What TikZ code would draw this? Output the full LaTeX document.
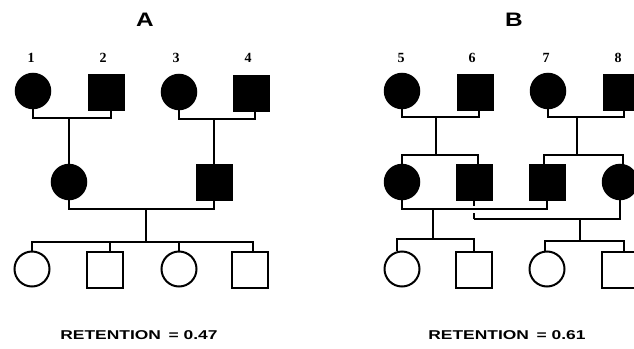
\documentclass[tikz,border=0pt]{standalone}
\usepackage{graphicx}
\usepackage{fontspec}
\newfontfamily\headfont{Liberation Sans}
\newfontfamily\numfont{Liberation Serif}
\begin{document}
\begin{tikzpicture}[x=1pt,y=-1pt,line width=2.4pt,line join=miter,
  aff/.style={draw,fill=black,inner sep=0pt,line width=1.5pt},
  unaff/.style={draw,fill=white,inner sep=0pt,line width=2pt},
  fem/.style={circle,minimum size=35pt},
  mal/.style={rectangle,minimum size=35.5pt},
  idlabel/.style={font=\numfont\bfseries\fontsize{14}{16}\selectfont},
  panel/.style={font=\headfont\bfseries\fontsize{19.5}{22}\selectfont},
  score/.style={font=\headfont\bfseries\fontsize{12.8}{15}\selectfont}]
\path[use as bounding box] (0,0) rectangle (634,348);
\fill[white] (0,0) rectangle (634,348);
\clip (0,0) rectangle (634,348);

% ---------------- pedigree A ----------------
\node[panel] (tA) at (145,20) {\scalebox{1.25}[1]{A}};
\node[idlabel] (l1) at (31,58) {1};
\node[idlabel] (l2) at (103,58) {2};
\node[idlabel] (l3) at (176,58) {3};
\node[idlabel] (l4) at (248,58) {4};

\node[aff,fem] (a1) at (33,91) {};
\node[aff,mal] (a2) at (106,92) {};
\node[aff,fem] (a3) at (179,92) {};
\node[aff,mal] (a4) at (251,93) {};

\node[aff,fem] (a5) at (69,182) {};
\node[aff,mal] (a6) at (214,182) {};

\node[unaff,fem] (a7) at (32,269) {};
\node[unaff,mal] (a8) at (105,270) {};
\node[unaff,fem] (a9) at (179,269) {};
\node[unaff,mal] (a10) at (250,270) {};

% matings and descent lines
\coordinate (mA1) at (69,118);
\draw (a1.south) -- (a1.south |- mA1) -- ([xshift=5pt]a2.south |- mA1) -- ([xshift=5pt]a2.south);
\draw (mA1) -- (a5.north);
\coordinate (mA2) at (214,119);
\draw (a3.south) -- (a3.south |- mA2) -- ([xshift=4pt]a4.south |- mA2) -- ([xshift=4pt]a4.south);
\draw (mA2) -- (a6.north);
\coordinate (mA3) at (146,209);
\draw (a5.south) -- (a5.south |- mA3) -- (a6.south |- mA3) -- (a6.south);
\coordinate (sA) at (146,242);
\draw (mA3) -- (sA);
\draw (a7.north) -- (a7.north |- sA) -- ([xshift=3pt]a10.north |- sA) -- ([xshift=3pt]a10.north);
\draw ([xshift=5pt]a8.north) -- ([xshift=5pt]a8.north |- sA);
\draw (a9.north) -- (a9.north |- sA);

\node[score] (rA) at (139,335) {\scalebox{1.36}[1]{RETENTION\,\ =\ 0.47}};

% ---------------- pedigree B ----------------
\node[panel] (tB) at (514,20) {\scalebox{1.25}[1]{B}};
\node[idlabel] (l5) at (401,58) {5};
\node[idlabel] (l6) at (472,58) {6};
\node[idlabel] (l7) at (546,58) {7};
\node[idlabel] (l8) at (618,58) {8};

\node[aff,fem] (b1) at (402,91) {};
\node[aff,mal] (b2) at (475,92) {};
\node[aff,fem] (b3) at (548,91) {};
\node[aff,mal] (b4) at (621,92) {};

\node[aff,fem] (b5) at (402,182) {};
\node[aff,mal] (b6) at (474,182) {};
\node[aff,mal] (b7) at (547,182) {};
\node[aff,fem] (b8) at (620,182) {};

\node[unaff,fem] (b9) at (402,269) {};
\node[unaff,mal] (b10) at (474,270) {};
\node[unaff,fem] (b11) at (547,269) {};
\node[unaff,mal] (b12) at (620,270) {};

% first generation matings and their sibships
\coordinate (mB1) at (436,117);
\coordinate (sB1) at (436,155);
\draw (b1.south) -- (b1.south |- mB1) -- ([xshift=4pt]b2.south |- mB1) -- ([xshift=4pt]b2.south);
\draw (mB1) -- (sB1);
\draw (b5.north) -- (b5.north |- sB1) -- ([xshift=4pt]b6.north |- sB1) -- ([xshift=4pt]b6.north);

\coordinate (mB2) at (577,117);
\coordinate (sB2) at (577,155);
\draw (b3.south) -- (b3.south |- mB2) -- ([xshift=3pt]b4.south |- mB2) -- ([xshift=3pt]b4.south);
\draw (mB2) -- (sB2);
\draw ([xshift=-3pt]b7.north) -- ([xshift=-3pt]b7.north |- sB2) -- ([xshift=3pt]b8.north |- sB2) -- ([xshift=3pt]b8.north);

% second generation: 5'x7' mating
\coordinate (mB3) at (433,209);
\coordinate (sB3) at (433,239);
\draw (b5.south) -- (b5.south |- mB3) -- (b7.south |- mB3) -- (b7.south);
\draw (mB3) -- (sB3);
\draw ([xshift=-5pt]b9.north) -- ([xshift=-5pt]b9.north |- sB3) -- (b10.north |- sB3) -- (b10.north);

% second generation: 6'x8' mating, hopping over the 5'x7' line
\coordinate (mB4) at (580,219);
\coordinate (sB4) at (580,241);
\draw (b6.south) -- ++(0,5);
\draw (b6.south |- mB4) -- ++(0,-6);
\draw (b6.south |- mB4) -- (b8.south |- mB4) -- (b8.south);
\draw (mB4) -- (sB4);
\draw ([xshift=-2pt]b11.north) -- ([xshift=-2pt]b11.north |- sB4) -- ([xshift=4pt]b12.north |- sB4) -- ([xshift=4pt]b12.north);

\node[score] (rB) at (507,335) {\scalebox{1.36}[1]{RETENTION\,\ =\ 0.61}};
\end{tikzpicture}
\end{document}
